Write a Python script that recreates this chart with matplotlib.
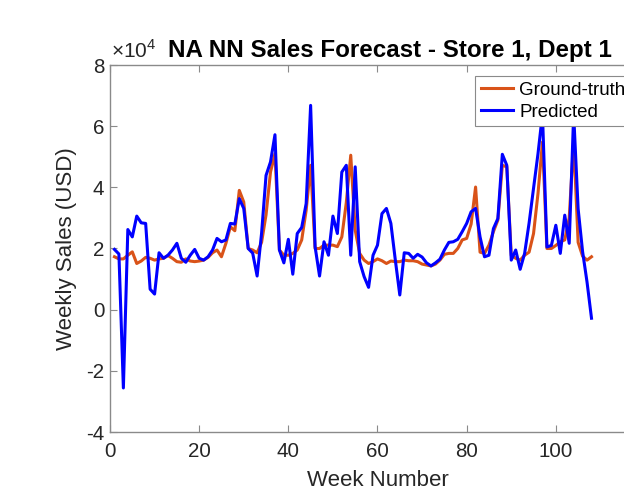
import numpy as np
import matplotlib
matplotlib.use("Agg")
import matplotlib.pyplot as plt

plt.rcParams['font.family'] = ['Liberation Sans', 'DejaVu Sans']
plt.rcParams['mathtext.fontset'] = 'custom'
plt.rcParams['mathtext.rm'] = 'Liberation Sans'

# Weekly sales, in units of 10^4 USD
ground_truth = [
    1.73, 1.66, 1.66, 1.78, 1.89, 1.51, 1.59, 1.71, 1.68, 1.62,
    1.66, 1.68, 1.77, 1.68, 1.57, 1.55, 1.66, 1.59, 1.57, 1.59,
    1.62, 1.71, 1.86, 1.95, 1.73, 2.17, 2.71, 2.58, 3.90, 3.52,
    2.00, 1.95, 1.86, 2.20, 3.10, 4.50, 5.10, 1.95, 1.78, 1.78,
    1.84, 1.95, 2.28, 3.25, 4.72, 2.00, 2.00, 2.11, 2.11, 2.11,
    2.06, 2.38, 3.50, 5.05, 2.60, 1.84, 1.62, 1.51, 1.57, 1.66,
    1.60, 1.51, 1.59, 1.57, 1.57, 1.62, 1.60, 1.60, 1.57, 1.49,
    1.46, 1.43, 1.49, 1.62, 1.81, 1.84, 1.84, 2.00, 2.28, 2.33,
    2.80, 4.01, 1.88, 1.84, 2.11, 2.55, 2.93, 4.72, 4.67, 1.78,
    1.68, 1.62, 1.78, 1.88, 2.49, 3.80, 5.48, 2.00, 2.00, 2.10,
    2.22, 2.28, 3.00, 5.50, 2.20, 1.75, 1.62, 1.73,
]
predicted = [
    1.97, 1.82, -2.56, 2.62, 2.38, 3.06, 2.84, 2.82, 0.67, 0.51,
    1.86, 1.68, 1.78, 1.95, 2.17, 1.68, 1.55, 1.78, 1.97, 1.68,
    1.62, 1.73, 1.95, 2.33, 2.22, 2.28, 2.82, 2.80, 3.63, 3.31,
    2.00, 1.85, 1.10, 2.50, 4.39, 4.83, 5.72, 1.95, 1.53, 2.30,
    1.16, 2.49, 2.69, 3.47, 6.68, 2.06, 1.10, 2.22, 1.78, 3.06,
    2.49, 4.50, 4.72, 1.78, 4.67, 1.57, 1.08, 0.73, 1.78, 2.11,
    3.14, 3.31, 2.82, 1.62, 0.48, 1.86, 1.84, 1.68, 1.81, 1.72,
    1.53, 1.43, 1.53, 1.65, 1.95, 2.20, 2.22, 2.30, 2.55, 2.82,
    3.20, 3.31, 2.38, 1.73, 1.78, 2.65, 2.98, 5.08, 4.72, 1.62,
    1.95, 1.32, 1.84, 2.83, 3.97, 5.10, 6.40, 2.05, 2.10, 2.76,
    1.84, 3.09, 2.17, 6.40, 3.30, 1.90, 0.90, -0.28,
]
weeks = np.arange(1, len(ground_truth) + 1)
x_ticks = [0, 20, 40, 60, 80, 100, 120]
x_tick_labels = ['0', '20', '40', '60', '80', '100', '']
y_ticks = [-4, -2, 0, 2, 4, 6, 8]
y_tick_labels = ['-4', '-2', '0', '2', '4', '6', '8']

W, H = 624, 486
fig = plt.figure(figsize=(W / 100, H / 100), dpi=100)
ax = fig.add_axes([110 / W, 54 / H, 535 / W, 367 / H])

ax.plot(weeks, ground_truth, color='#D95319', lw=2.2, label='Ground-truth')
ax.plot(weeks, predicted, color='#0000FF', lw=2.2, label='Predicted')

ax.set_xlim(0, 120)
ax.set_ylim(-4, 8)
ax.set_xticks(x_ticks, x_tick_labels)
ax.set_yticks(y_ticks, y_tick_labels)

spine_c = '#8a8a8a'
for s in ax.spines.values():
    s.set_color(spine_c)
    s.set_linewidth(1.0)
ax.tick_params(which='both', direction='in', length=5, width=0.8, color=spine_c,
               labelsize=14.8, labelcolor='#262626', top=True, right=True)
ax.tick_params(axis='x', pad=7.5)
ax.tick_params(axis='y', pad=4)

ax.set_xlabel('Week Number', fontsize=16, color='#262626')
ax.xaxis.set_label_coords(0.5, -0.104)
ax.set_ylabel('Weekly Sales (USD)', fontsize=16, color='#262626')
ax.yaxis.set_label_coords(-0.062, 0.5)

fig.text(111 / W, 1 - 58 / H, r'$\times$10$^4$', fontsize=15, color='#262626',
         ha='left', va='baseline')
fig.text(390 / W, 1 - 57 / H, 'NA NN Sales Forecast - Store 1, Dept 1',
         fontsize=17.4, fontweight='bold', color='black', ha='center', va='baseline')

leg = ax.legend(loc='upper left', bbox_to_anchor=((475 - 110) / 535, (432 - 76) / 367),
                fontsize=13.5, frameon=True, fancybox=False, framealpha=1,
                edgecolor='#8a8a8a', handlelength=1.75, handletextpad=0.3,
                borderpad=0.3, labelspacing=0.25, borderaxespad=0)
leg.get_frame().set_linewidth(0.8)

fig.savefig('out.png', dpi=100)
